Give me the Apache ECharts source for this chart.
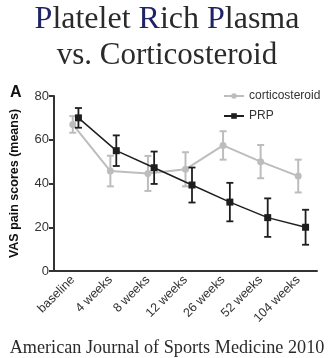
<!DOCTYPE html>
<html>
<head>
<meta charset="utf-8">
<script src="https://cdn.jsdelivr.net/npm/echarts@6/dist/echarts.min.js"></script>
<style>
  html, body { margin: 0; padding: 0; background: #fff; }
  #chart { width: 334px; height: 358px; }
</style>
</head>
<body>
<div id="chart"></div>
<script>
// Time points of follow-up
const categories = ['baseline', '4 weeks', '8 weeks', '12 weeks', '26 weeks', '52 weeks', '104 weeks'];

// Mean VAS pain scores and error half-widths
const corticoMeans = [67, 45.7, 44.6, 46.5, 57.4, 50, 43.4];
const corticoErr   = [3.8, 7, 8, 7.8, 6.5, 7.6, 7.5];
const prpMeans     = [70, 55, 47.2, 39.3, 31.5, 24.4, 20];
const prpErr       = [4.5, 7, 7.4, 8, 8.8, 8.8, 8];

const yTicks = [0, 20, 40, 60, 80];

const corticoColor = '#bdbdbd';
const prpColor = '#1e1e1e';
const axisColor = '#333';

function errorBarData(means, errs) {
  return means.map((m, i) => [i, m - errs[i], m + errs[i]]);
}

function errorBarRenderer(color, lineWidth) {
  return function (params, api) {
    const lo = api.coord([api.value(0), api.value(1)]);
    const hi = api.coord([api.value(0), api.value(2)]);
    const cap = 3.5;
    const style = { stroke: color, lineWidth: lineWidth, fill: null };
    return {
      type: 'group',
      children: [
        { type: 'line', shape: { x1: lo[0], y1: lo[1], x2: hi[0], y2: hi[1] }, style },
        { type: 'line', shape: { x1: lo[0] - cap, y1: lo[1], x2: lo[0] + cap, y2: lo[1] }, style },
        { type: 'line', shape: { x1: hi[0] - cap, y1: hi[1], x2: hi[0] + cap, y2: hi[1] }, style }
      ]
    };
  };
}

const chart = echarts.init(document.getElementById('chart'), null, { renderer: 'canvas' });

const serif = '"Liberation Serif", "DejaVu Serif", serif';
const sans = '"Liberation Sans", Arial, sans-serif';
const navy = '#1f2466';

const yMin = yTicks[0], yMax = yTicks[yTicks.length - 1];
const yStep = yTicks[1] - yTicks[0];

const option = {
  animation: false,
  backgroundColor: '#fff',
  title: [
    {
      left: 'center', top: -1,
      text: '{c|P}{t|latelet }{c|R}{t|ich }{c|P}{t|lasma}',
      textStyle: {
        fontWeight: 'normal',
        rich: {
          c: { fontFamily: serif, fontSize: 32, fontWeight: 'normal', color: navy },
          t: { fontFamily: serif, fontSize: 32, fontWeight: 'normal', color: '#2a2a2a' }
        }
      }
    },
    {
      left: 'center', top: 35,
      text: 'vs. Corticosteroid',
      textStyle: { fontFamily: serif, fontSize: 31, fontWeight: 'normal', color: '#2a2a2a' }
    },
    {
      left: 5, top: 80,
      text: 'A',
      textStyle: { fontFamily: sans, fontSize: 16, fontWeight: 'bold', color: '#111' }
    },
    {
      left: 'center', top: 334,
      text: 'American Journal of Sports Medicine 2010',
      textStyle: { fontFamily: serif, fontSize: 18.2, fontWeight: 'normal', color: '#2a2a2a' }
    }
  ],
  legend: {
    orient: 'vertical',
    left: 218, top: 85,
    itemWidth: 20, itemHeight: 7, itemGap: 8,
    textStyle: { fontFamily: sans, fontSize: 12, color: '#333' },
    data: ['corticosteroid', 'PRP']
  },
  grid: [
    { left: 52, right: 17, top: 96, bottom: 87 },
    { left: 59.5, right: 9.5, top: 96, bottom: 87 }
  ],
  xAxis: [
    {
      type: 'category', gridIndex: 0, data: categories, boundaryGap: true,
      axisLine: { lineStyle: { color: axisColor, width: 2 } },
      axisTick: { alignWithLabel: true, length: 5, lineStyle: { color: axisColor, width: 2 } },
      axisLabel: { rotate: 45, fontFamily: sans, fontSize: 12.5, color: '#333', margin: 7 }
    },
    {
      type: 'category', gridIndex: 1, data: categories, boundaryGap: true, show: false
    }
  ],
  yAxis: [
    {
      type: 'value', gridIndex: 0, min: yMin, max: yMax, interval: yStep,
      name: 'VAS pain scores (means)', nameLocation: 'middle', nameGap: 33,
      nameTextStyle: { fontFamily: sans, fontSize: 12.5, fontWeight: 'bold', color: '#111' },
      axisLine: { show: true, lineStyle: { color: axisColor, width: 2 } },
      axisTick: { show: true, length: 5, lineStyle: { color: axisColor, width: 2 } },
      axisLabel: { fontFamily: sans, fontSize: 13, color: '#333', margin: 5 },
      splitLine: { show: false }
    },
    {
      type: 'value', gridIndex: 1, min: yMin, max: yMax, interval: yStep, show: false,
      splitLine: { show: false }
    }
  ],
  series: [
    {
      name: 'corticosteroid-err', type: 'custom', xAxisIndex: 0, yAxisIndex: 0, z: 1,
      renderItem: errorBarRenderer(corticoColor, 2),
      data: errorBarData(corticoMeans, corticoErr), silent: true
    },
    {
      name: 'corticosteroid', type: 'line', xAxisIndex: 0, yAxisIndex: 0, z: 2,
      data: corticoMeans,
      symbol: 'circle', symbolSize: 7,
      itemStyle: { color: corticoColor },
      lineStyle: { color: corticoColor, width: 2 }
    },
    {
      name: 'PRP-err', type: 'custom', xAxisIndex: 1, yAxisIndex: 1, z: 3,
      renderItem: errorBarRenderer(prpColor, 1.8),
      data: errorBarData(prpMeans, prpErr), silent: true
    },
    {
      name: 'PRP', type: 'line', xAxisIndex: 1, yAxisIndex: 1, z: 4,
      data: prpMeans,
      symbol: 'rect', symbolSize: 7,
      itemStyle: { color: prpColor },
      lineStyle: { color: prpColor, width: 1.5 }
    }
  ]
};

chart.setOption(option);
</script>
</body>
</html>
